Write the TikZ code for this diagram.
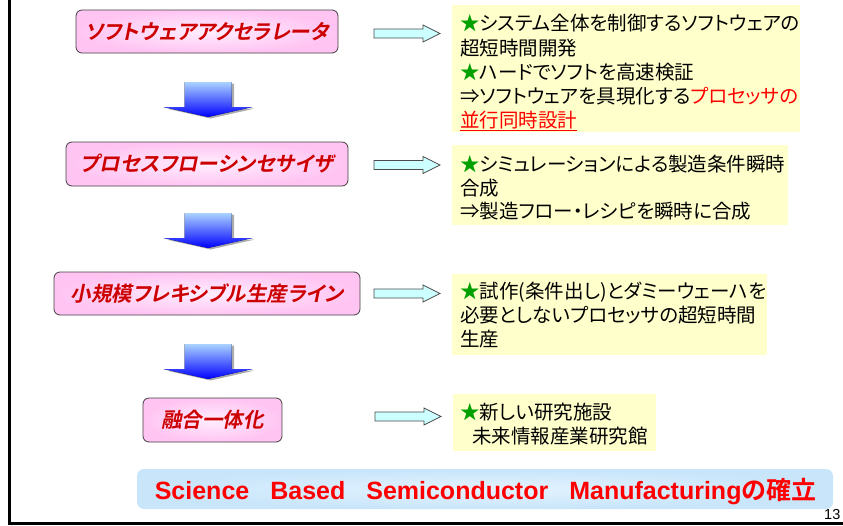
\documentclass[tikz,border=0pt]{standalone}
\usepackage{fontspec}
\setmainfont{Liberation Sans}
\newfontfamily\jp[RawFeature={+palt}]{Noto Sans CJK JP}
\newfontfamily\jpbold[RawFeature={+palt}]{Noto Sans CJK JP Bold}
\newfontfamily\jptitle[RawFeature={+palt},FakeSlant=0.2]{Noto Sans CJK JP Bold}
\newfontfamily\arialb{Liberation Sans Bold}
\usetikzlibrary{calc}
\definecolor{titlered}{RGB}{204,0,0}
\definecolor{starg}{RGB}{0,160,0}
\definecolor{ylw}{RGB}{255,255,204}
\definecolor{pinkout}{RGB}{255,196,242}
\definecolor{pinkin}{RGB}{255,238,255}
\definecolor{cyanf}{RGB}{204,255,255}
\definecolor{bannerin}{RGB}{228,243,255}
\definecolor{bannerout}{RGB}{200,229,250}
\definecolor{arrowtop}{RGB}{170,210,255}
\newcommand\gstar{{\color{starg}★}}
\newcommand\downarrowpath{(-23.5,0) -- (23.5,0) -- (23.5,25) -- (44.5,25) -- (0,35) -- (-44.5,25) -- (-23.5,25) -- cycle}
\newcommand\rightarrowpath{(0,-4.5) -- (49,-4.5) -- (49,-8.5) -- (66,0) -- (49,8.5) -- (49,4.5) -- (0,4.5) -- cycle}
\begin{document}
\begin{tikzpicture}[x=1pt,y=-1pt,
  titlebox/.style={draw=black!75, line width=0.8pt, rounded corners=6pt,
    inner color=pinkin, outer color=pinkout, text=titlered,
    font=\jptitle\fontsize{20.5}{24}\selectfont, inner sep=0pt},
  ybox/.style={fill=ylw, inner sep=0pt, anchor=north west},
  jline/.style={anchor=base west, inner sep=0pt, font=\jp\fontsize{19.5}{24}\selectfont},
  dashadow/.style={fill=gray!65},
  dabody/.style={top color=arrowtop, bottom color=blue},
  rabody/.style={fill=cyanf, draw=black!70, line width=0.8pt, line join=miter}
]
\useasboundingbox (0,0) rectangle (843,525);

% frame
\draw[line width=3pt] (9,0) -- (9,523.5) -- (843,523.5);

% title boxes
\node[titlebox, minimum width=262pt, minimum height=43pt] (t1) at (207,31.5) {ソフトウェアアクセラレータ};
\node[titlebox, minimum width=282pt, minimum height=44pt] (t2) at (207,164) {プロセスフローシンセサイザ};
\node[titlebox, minimum width=306pt, minimum height=43pt] (t3) at (207,293.5) {小規模フレキシブル生産ライン};
\node[titlebox, minimum width=139pt, minimum height=44pt] (t4) at (212.5,420) {融合一体化};

% down arrows (anchor = top centre of shaft)
\coordinate (d1) at (208,82);
\coordinate (d2) at (208,213);
\coordinate (d3) at (208,344);
\foreach \c in {d1,d2,d3}{
  \fill[dashadow, shift={($(\c)+(2.5,1.5)$)}] \downarrowpath;
  \fill[dabody, shift={(\c)}] \downarrowpath;
}

% right arrows (anchor = left middle of shaft)
\coordinate (r1) at (374,33.5);
\coordinate (r2) at (374,165);
\coordinate (r3) at (374,293.5);
\coordinate (r4) at (375,416.5);
\foreach \c in {r1,r2,r3,r4}{
  \draw[rabody, shift={(\c)}] \rightarrowpath;
}

% yellow boxes
\node[ybox, minimum width=348pt, minimum height=127pt] (y1) at (452,5) {};
\node[ybox, minimum width=336pt, minimum height=80pt] (y2) at (452,145) {};
\node[ybox, minimum width=315pt, minimum height=81pt] (y3) at (452,274) {};
\node[ybox, minimum width=203pt, minimum height=57pt] (y4) at (453,394) {};

% texts box 1
\node[jline] (l11) at (460,30.5) {\gstar システム全体を制御するソフトウェアの};
\node[jline] (l12) at (460,55) {超短時間開発};
\node[jline] (l13) at (460,79) {\gstar ハードでソフトを高速検証};
\node[jline] (l14) at (460,103.5) {⇒ソフトウェアを具現化する{\color{red}プロセッサの}};
\node[jline] (l15) at (460,127.5) {{\color{red}\underline{並行同時設計}}};

% texts box 2
\node[jline] (l21) at (460,171) {\gstar シミュレーションによる製造条件瞬時};
\node[jline] (l22) at (460,195) {合成};
\node[jline] (l23) at (460,218) {⇒製造フロー・レシピを瞬時に合成};

% texts box 3
\node[jline] (l31) at (460,298) {\gstar 試作(条件出し)とダミーウェーハを};
\node[jline] (l32) at (460,322) {必要としないプロセッサの超短時間};
\node[jline] (l33) at (460,346) {生産};

% texts box 4
\node[jline] (l41) at (460,419) {\gstar 新しい研究施設};
\node[jline] (l42) at (472,443) {未来情報産業研究館};

% banner
\node[inner sep=0pt, minimum width=696pt, minimum height=40pt, rounded corners=7pt,
  inner color=bannerin, outer color=bannerout] (banner) at (485,489) {};
\node[anchor=base, inner sep=0pt, text=red, font=\arialb\fontsize{25}{30}\selectfont] (bt) at (485.5,499)
  {Science\hspace{21pt}Based\hspace{21pt}Semiconductor\hspace{21pt}Manufacturing{\jpbold の確立}};

% page number
\node[anchor=base west, inner sep=0pt, font=\fontsize{14.5}{16}\selectfont] (pg) at (824,519.5) {13};
\end{tikzpicture}
\end{document}
